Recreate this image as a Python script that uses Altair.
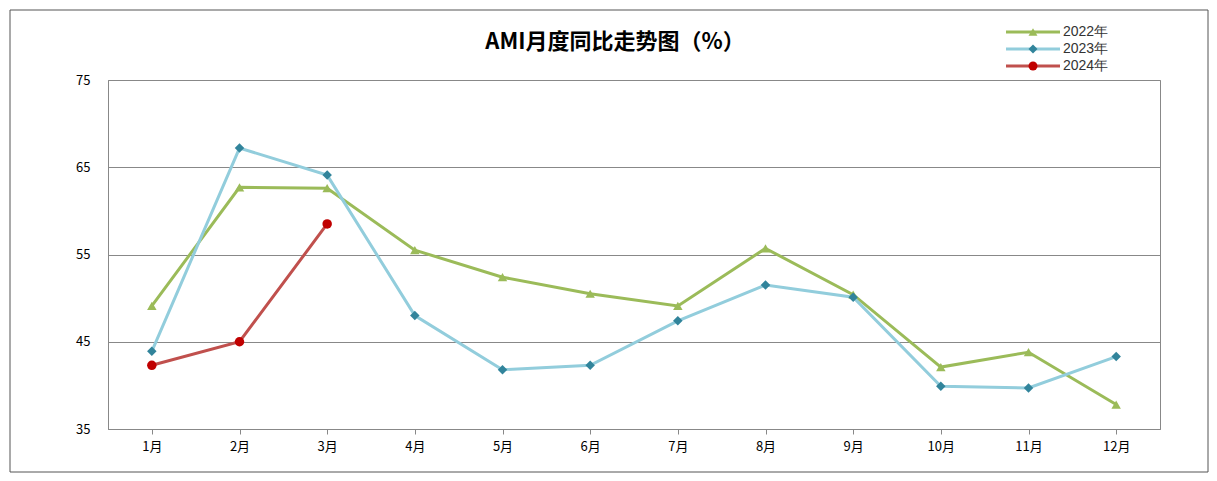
import pandas as pd
import altair as alt

months = ["1月", "2月", "3月", "4月", "5月", "6月", "7月", "8月", "9月", "10月", "11月", "12月"]
series = ["2022年", "2023年", "2024年"]
v2022 = [49.1, 62.7, 62.6, 55.5, 52.4, 50.5, 49.1, 55.7, 50.4, 42.1, 43.8, 37.8]
v2023 = [43.9, 67.2, 64.1, 48.0, 41.8, 42.3, 47.4, 51.5, 50.1, 39.9, 39.7, 43.3]
v2024 = [42.3, 45.0, 58.5]

line_colors = ["#9bbb59", "#92cddc", "#c0504d"]
marker_colors = ["#9bbb59", "#31849b", "#c00000"]
shapes = ["triangle-up", "diamond", "circle"]

rows = []
for name, vals in zip(series, [v2022, v2023, v2024]):
    for m, v in zip(months, vals):
        rows.append({"month": m, "value": v, "series": name})
df = pd.DataFrame(rows)

x = alt.X("month:N", sort=months, title=None).axis(
    labelAngle=0, ticks=True, tickColor="#888", domainColor="#888",
    labelFont="Noto Sans CJK SC", labelFontSize=13, labelColor="#000", labelPadding=6)
y = alt.Y("value:Q", title=None).scale(domain=[35, 75]).axis(
    values=[35, 45, 55, 65, 75], gridColor="#888", domainColor="#888",
    tickColor="#888", labelFont="Noto Sans CJK SC", labelFontSize=13,
    labelColor="#000", labelPadding=18, ticks=False)

base = alt.Chart(df).encode(x=x, y=y)

lines = base.mark_line(strokeWidth=3).encode(
    color=alt.Color("series:N", scale=alt.Scale(domain=series, range=line_colors), legend=None))

points = base.mark_point(filled=True, opacity=1, size=90).encode(
    fill=alt.Fill("series:N", scale=alt.Scale(domain=series, range=marker_colors), legend=None),
    shape=alt.Shape("series:N", scale=alt.Scale(domain=series, range=shapes), legend=None),
)

one = pd.DataFrame({"a": [0]})
frame = alt.Chart(one).mark_rect(
    fill=None, stroke="#555", strokeWidth=1, clip=False).encode(
    x=alt.value(-98), x2=alt.value(1100), y=alt.value(-70), y2=alt.value(392))

title = alt.Chart(one).mark_text(
    text="AMI月度同比走势图（%）", font="Noto Sans CJK SC", fontSize=22,
    fontWeight="bold", color="#000", clip=False).encode(
    x=alt.value(507), y=alt.value(-38))

legend_layers = []
for i, (name, lc, mc, sh) in enumerate(zip(series, line_colors, marker_colors, shapes)):
    yy = -48 + i * 17
    legend_layers.append(alt.Chart(one).mark_rule(color=lc, strokeWidth=3, clip=False).encode(
        x=alt.value(898), x2=alt.value(952), y=alt.value(yy)))
    legend_layers.append(alt.Chart(one).mark_point(
        filled=True, opacity=1, fill=mc, shape=sh, size=80, clip=False).encode(
        x=alt.value(925), y=alt.value(yy)))
    legend_layers.append(alt.Chart(one).mark_text(
        text=name, align="left", font="Liberation Sans", fontSize=14,
        color="#333", clip=False).encode(x=alt.value(955), y=alt.value(yy)))

chart = alt.layer(frame, lines, points, title, *legend_layers).properties(
    width=1052, height=349, autosize="none",
    padding={"left": 100, "top": 72, "right": 49, "bottom": 44},
).configure_view(stroke="#888")

chart.save("out.html", embed_options={"renderer": "svg", "actions": False})
